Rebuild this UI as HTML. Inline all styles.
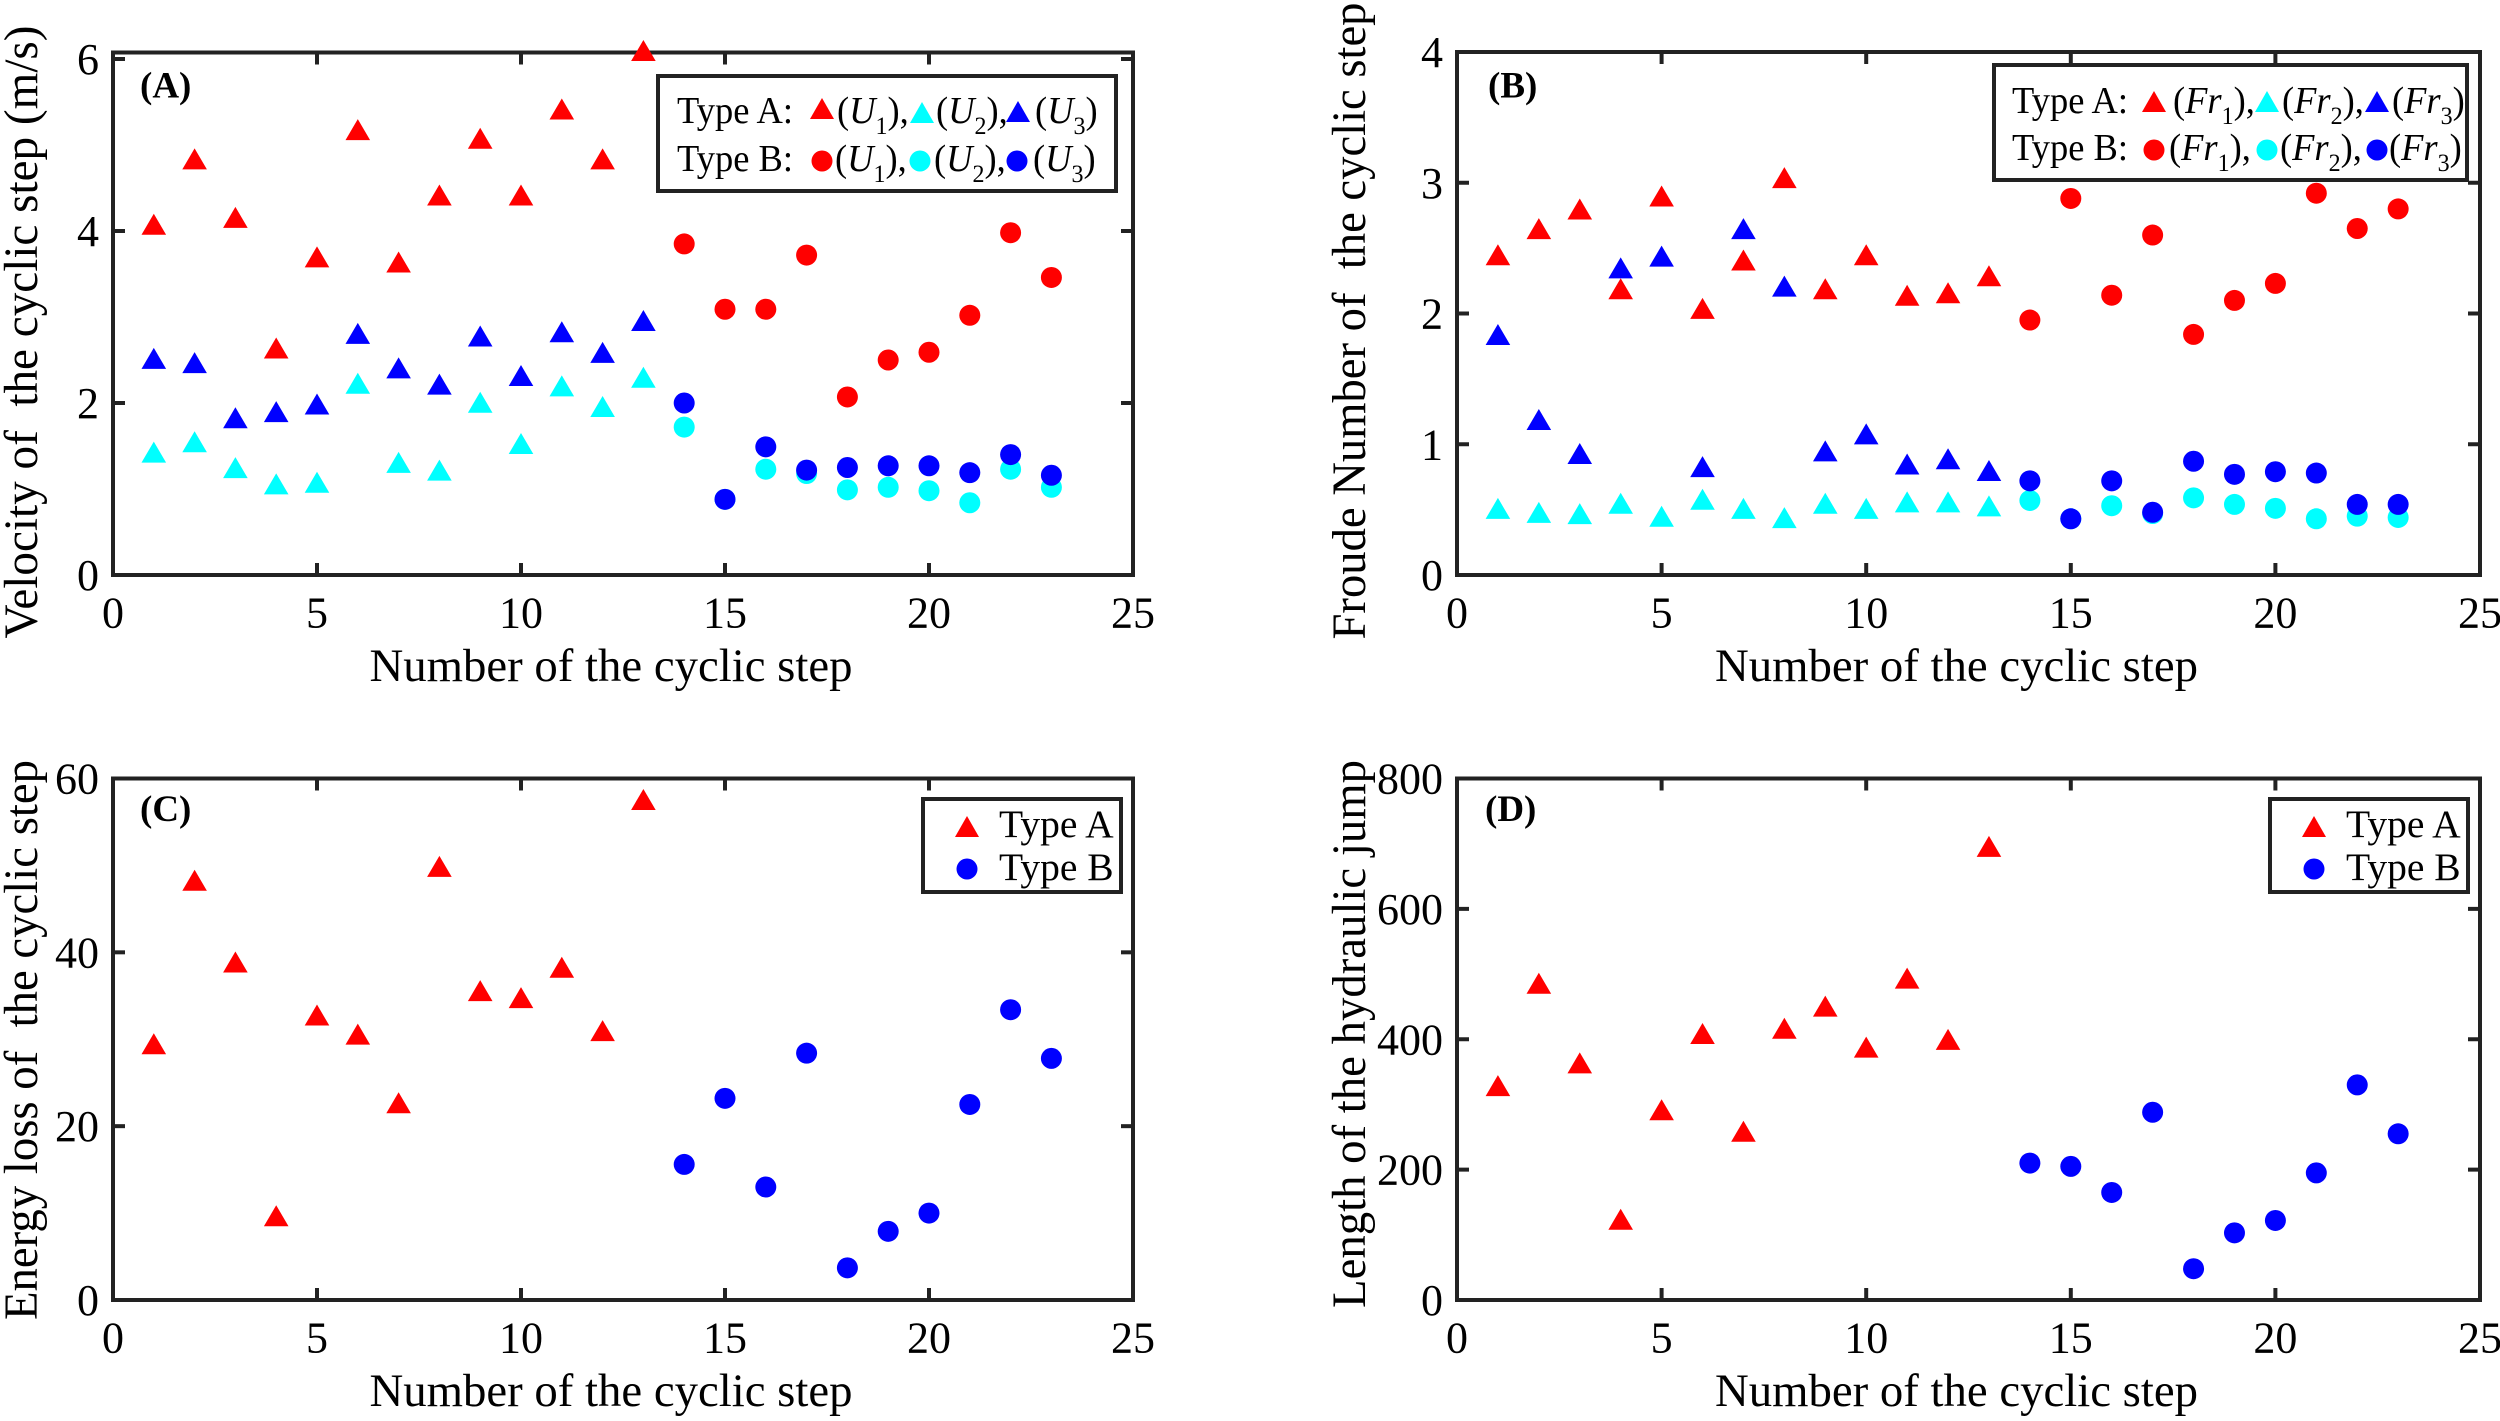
<!DOCTYPE html>
<html lang="en">
<head>
<meta charset="utf-8">
<title>Cyclic step hydraulics – four panel scatter chart</title>
<style>
html,body{margin:0;padding:0;background:#fff;}
svg{display:block;}
text{font-family:"Liberation Serif",serif;fill:#000;white-space:pre;}
.leg{font-size:38px;}
.leg2{font-size:39.5px;}
</style>
</head>
<body>
<svg id="figure" xmlns="http://www.w3.org/2000/svg" width="2500" height="1421" viewBox="0 0 2500 1421">
  <rect x="0" y="0" width="2500" height="1421" fill="#fff"/>
  <g id="panels"></g>

  <g>
    <rect x="658" y="76" width="458" height="115" fill="#fff" stroke="#222" stroke-width="4"/>
    <text class="leg" x="677" y="123">Type A:</text>
    <polygon points="810,119 834,119 822,98" fill="#f00"/>
    <text class="leg" x="837" y="123">(<tspan font-style="italic">U</tspan><tspan dy="11" font-size="25">1</tspan><tspan dy="-11">),</tspan></text>
    <polygon points="910,123 934,123 922,102" fill="#0ff"/>
    <text class="leg" x="936" y="123">(<tspan font-style="italic">U</tspan><tspan dy="11" font-size="25">2</tspan><tspan dy="-11">),</tspan></text>
    <polygon points="1006,122 1030,122 1018,101" fill="#00f"/>
    <text class="leg" x="1035" y="123">(<tspan font-style="italic">U</tspan><tspan dy="11" font-size="25">3</tspan><tspan dy="-11">)</tspan></text>
    <text class="leg" x="677" y="171">Type B:</text>
    <circle cx="822" cy="161" r="10.5" fill="#f00"/>
    <text class="leg" x="835" y="171">(<tspan font-style="italic">U</tspan><tspan dy="11" font-size="25">1</tspan><tspan dy="-11">),</tspan></text>
    <circle cx="920" cy="161" r="10.5" fill="#0ff"/>
    <text class="leg" x="934" y="171">(<tspan font-style="italic">U</tspan><tspan dy="11" font-size="25">2</tspan><tspan dy="-11">),</tspan></text>
    <circle cx="1017" cy="161" r="10.5" fill="#00f"/>
    <text class="leg" x="1033" y="171">(<tspan font-style="italic">U</tspan><tspan dy="11" font-size="25">3</tspan><tspan dy="-11">)</tspan></text>
  </g>

  <g>
    <rect x="1994" y="65" width="473" height="115" fill="#fff" stroke="#222" stroke-width="4"/>
    <text class="leg" x="2012" y="113">Type A:</text>
    <polygon points="2142,112 2166,112 2154,91" fill="#f00"/>
    <text class="leg" x="2173" y="113">(<tspan font-style="italic">Fr</tspan><tspan dy="11" font-size="25">1</tspan><tspan dy="-11">),</tspan></text>
    <polygon points="2255,112 2279,112 2267,91" fill="#0ff"/>
    <text class="leg" x="2282" y="113">(<tspan font-style="italic">Fr</tspan><tspan dy="11" font-size="25">2</tspan><tspan dy="-11">),</tspan></text>
    <polygon points="2365,112 2389,112 2377,91" fill="#00f"/>
    <text class="leg" x="2392" y="113">(<tspan font-style="italic">Fr</tspan><tspan dy="11" font-size="25">3</tspan><tspan dy="-11">)</tspan></text>
    <text class="leg" x="2012" y="160">Type B:</text>
    <circle cx="2154" cy="150" r="10.5" fill="#f00"/>
    <text class="leg" x="2169" y="160">(<tspan font-style="italic">Fr</tspan><tspan dy="11" font-size="25">1</tspan><tspan dy="-11">),</tspan></text>
    <circle cx="2267" cy="150" r="10.5" fill="#0ff"/>
    <text class="leg" x="2280" y="160">(<tspan font-style="italic">Fr</tspan><tspan dy="11" font-size="25">2</tspan><tspan dy="-11">),</tspan></text>
    <circle cx="2377" cy="150" r="10.5" fill="#00f"/>
    <text class="leg" x="2389" y="160">(<tspan font-style="italic">Fr</tspan><tspan dy="11" font-size="25">3</tspan><tspan dy="-11">)</tspan></text>
  </g>

  <g>
    <rect x="923" y="799" width="198" height="93" fill="#fff" stroke="#222" stroke-width="4"/>
    <polygon points="955,837 979,837 967,816" fill="#f00"/>
    <text class="leg2" x="999" y="837">Type A</text>
    <circle cx="967" cy="869" r="10.5" fill="#00f"/>
    <text class="leg2" x="999" y="880">Type B</text>
  </g>

  <g>
    <rect x="2270" y="799" width="198" height="93" fill="#fff" stroke="#222" stroke-width="4"/>
    <polygon points="2302,837 2326,837 2314,816" fill="#f00"/>
    <text class="leg2" x="2346" y="837">Type A</text>
    <circle cx="2314" cy="869" r="10.5" fill="#00f"/>
    <text class="leg2" x="2346" y="880">Type B</text>
  </g>
</svg>

<script>
// Shared x data (cyclic step number) and tick labels
var stepsA = [1,2,3,4,5,6,7,8,9,10,11,12,13];
var stepsB = [14,15,16,17,18,19,20,21,22,23];
var xTicks = [0,5,10,15,20,25];

// Panel A: velocity (m/s)
var velocityTicks = [0,2,4,6];
var u1TypeA = [4.05,4.81,4.13,2.61,3.67,5.15,3.61,4.39,5.05,4.39,5.39,4.81,6.07];
var u2TypeA = [1.40,1.52,1.22,1.03,1.05,2.20,1.28,1.19,1.98,1.50,2.17,1.93,2.27];
var u3TypeA = [2.49,2.44,1.80,1.87,1.96,2.78,2.38,2.19,2.75,2.29,2.80,2.56,2.93];
var u1TypeB = [3.85,3.09,3.09,3.72,2.07,2.50,2.59,3.02,3.98,3.46];
var u2TypeB = [1.72,0.88,1.23,1.18,0.99,1.02,0.98,0.84,1.23,1.02];
var u3TypeB = [2.00,0.88,1.49,1.22,1.25,1.27,1.27,1.19,1.40,1.16];

// Panel B: Froude number
var froudeTicks = [0,1,2,3,4];
var fr1TypeA = [2.43,2.63,2.78,2.17,2.88,2.02,2.39,3.02,2.17,2.43,2.12,2.14,2.27];
var fr2TypeA = [0.49,0.46,0.45,0.53,0.43,0.56,0.49,0.42,0.53,0.49,0.54,0.54,0.51];
var fr3TypeA = [1.82,1.17,0.91,2.33,2.42,0.81,2.63,2.19,0.93,1.06,0.83,0.87,0.78];
var fr1TypeB = [1.95,2.88,2.14,2.60,1.84,2.10,2.23,2.92,2.65,2.80];
var fr2TypeB = [0.57,0.43,0.53,0.47,0.59,0.54,0.51,0.43,0.45,0.44];
var fr3TypeB = [0.72,0.43,0.72,0.48,0.87,0.77,0.79,0.78,0.54,0.54];

// Panel C: energy loss
var energyTicks = [0,20,40,60];
var energyTypeA = [29.2,48.0,38.6,9.4,32.5,30.3,22.4,49.6,35.3,34.5,38.0,30.7,57.3];
var energyTypeB = [15.6,23.2,13.0,28.4,3.7,7.9,10.0,22.5,33.4,27.8];

// Panel D: hydraulic jump length
var lengthTicks = [0,200,400,600,800];
var lengthTypeA = [325,482,360,120,288,405,255,413,447,384,490,396,692];
var lengthTypeB = [210,205,165,288,48,103,122,195,330,255];

var SVGNS = 'http://www.w3.org/2000/svg';
var AXIS_COLOR = '#222';
var root = document.getElementById('panels');

function make(tag, attrs, parent) {
  var el = document.createElementNS(SVGNS, tag);
  for (var k in attrs) { el.setAttribute(k, attrs[k]); }
  parent.appendChild(el);
  return el;
}

function drawPanel(p) {
  var g = make('g', {}, root);
  
  

  function sx(v) { return p.left + (v - 0) / 25 * (p.right - p.left); }
  function sy(v) { return p.bottom - v / p.yUnit; }

  // frame
  var frame = make('rect', {x: p.left, y: p.top, width: p.right - p.left, height: p.bottom - p.top, fill: 'none', stroke: AXIS_COLOR, 'stroke-width': 4}, g);
  
  

  // x ticks and labels
  xTicks.forEach(function (t) {
    var x = sx(t);
    if (t > 0 && t < 25) {
      var tb = make('line', {x1: x, x2: x, y1: p.bottom, y2: p.bottom - 12, stroke: AXIS_COLOR, 'stroke-width': 4}, g);
      
      
      var tt = make('line', {x1: x, x2: x, y1: p.top, y2: p.top + 12, stroke: AXIS_COLOR, 'stroke-width': 4}, g);
      
      
    }
    var lab = make('text', {x: x, y: p.bottom + 52.5, 'text-anchor': 'middle', 'font-size': 44}, g);
    
    
    lab.textContent = String(t);
  });

  // y ticks and labels
  p.yTicks.forEach(function (t) {
    var y = sy(t);
    if (t > 0 && y > p.top + 1) {
      var tl = make('line', {x1: p.left, x2: p.left + 12, y1: y, y2: y, stroke: AXIS_COLOR, 'stroke-width': 4}, g);
      
      
      var tr = make('line', {x1: p.right, x2: p.right - 12, y1: y, y2: y, stroke: AXIS_COLOR, 'stroke-width': 4}, g);
      
      
    }
    var lab = make('text', {x: p.left - 14, y: y + 15, 'text-anchor': 'end', 'font-size': 44}, g);
    
    
    lab.textContent = String(t);
  });

  // axis titles
  var xt = make('text', {x: (p.left + p.right) / 2 - 12, y: p.bottom + 106, 'text-anchor': 'middle', 'font-size': 46.5, textLength: 483, lengthAdjust: 'spacingAndGlyphs'}, g);
  
  
  xt.textContent = 'Number of the cyclic step';

  var yt = make('text', {transform: 'translate(' + p.yTitleX + ',' + p.yTitleY + ') rotate(-90)', 'text-anchor': 'middle', 'font-size': 48, textLength: p.yTitleLen, lengthAdjust: 'spacingAndGlyphs'}, g);
  
  
  yt.textContent = p.yTitle;

  // panel letter
  var tag = make('text', {x: p.tagX, y: p.tagY, 'font-size': 37, 'font-weight': 'bold'}, g);
  
  
  tag.textContent = p.tag;

  // series
  p.series.forEach(function (s) {
    var sg = make('g', {fill: s.color}, g);
    
    
    s.xs.forEach(function (xv, i) {
      var cx = sx(xv), cy = sy(s.ys[i]), m;
      if (s.shape === 'tri') {
        m = make('polygon', {points: (cx - 12.3) + ',' + (cy + 8) + ' ' + (cx + 12.3) + ',' + (cy + 8) + ' ' + cx + ',' + (cy - 13)}, sg);
      } else {
        m = make('circle', {cx: cx, cy: cy, r: 10.5}, sg);
      }
      
      
    });
  });
}

drawPanel({
  id: 'a', tag: '(A)', tagX: 140, tagY: 97.5,
  left: 113, right: 1133, top: 52.5, bottom: 575, yUnit: 1 / 86,
  yTicks: velocityTicks,
  yTitle: 'Velocity of  the cyclic step (m/s)', yTitleX: 37, yTitleY: 332, yTitleLen: 613,
  series: [
    {name: 'u2-type-a', shape: 'tri', color: '#0ff', xs: stepsA, ys: u2TypeA},
    {name: 'u3-type-a', shape: 'tri', color: '#00f', xs: stepsA, ys: u3TypeA},
    {name: 'u1-type-a', shape: 'tri', color: '#f00', xs: stepsA, ys: u1TypeA},
    {name: 'u2-type-b', shape: 'cir', color: '#0ff', xs: stepsB, ys: u2TypeB},
    {name: 'u3-type-b', shape: 'cir', color: '#00f', xs: stepsB, ys: u3TypeB},
    {name: 'u1-type-b', shape: 'cir', color: '#f00', xs: stepsB, ys: u1TypeB}
  ]
});

drawPanel({
  id: 'b', tag: '(B)', tagX: 1488, tagY: 97.5,
  left: 1457, right: 2480, top: 52, bottom: 575, yUnit: 4 / 523,
  yTicks: froudeTicks,
  yTitle: 'Froude Number of  the cyclic step', yTitleX: 1365, yTitleY: 321, yTitleLen: 637,
  series: [
    {name: 'fr2-type-a', shape: 'tri', color: '#0ff', xs: stepsA, ys: fr2TypeA},
    {name: 'fr3-type-a', shape: 'tri', color: '#00f', xs: stepsA, ys: fr3TypeA},
    {name: 'fr1-type-a', shape: 'tri', color: '#f00', xs: stepsA, ys: fr1TypeA},
    {name: 'fr2-type-b', shape: 'cir', color: '#0ff', xs: stepsB, ys: fr2TypeB},
    {name: 'fr3-type-b', shape: 'cir', color: '#00f', xs: stepsB, ys: fr3TypeB},
    {name: 'fr1-type-b', shape: 'cir', color: '#f00', xs: stepsB, ys: fr1TypeB}
  ]
});

drawPanel({
  id: 'c', tag: '(C)', tagX: 140, tagY: 821,
  left: 113, right: 1133, top: 778.5, bottom: 1300, yUnit: 60 / 521.5,
  yTicks: energyTicks,
  yTitle: 'Energy loss of  the cyclic step', yTitleX: 37, yTitleY: 1040, yTitleLen: 560,
  series: [
    {name: 'energy-type-a', shape: 'tri', color: '#f00', xs: stepsA, ys: energyTypeA},
    {name: 'energy-type-b', shape: 'cir', color: '#00f', xs: stepsB, ys: energyTypeB}
  ]
});

drawPanel({
  id: 'd', tag: '(D)', tagX: 1485, tagY: 821,
  left: 1457, right: 2480, top: 778.5, bottom: 1300, yUnit: 800 / 521.5,
  yTicks: lengthTicks,
  yTitle: 'Length of the hydraulic jump', yTitleX: 1365, yTitleY: 1034, yTitleLen: 548,
  series: [
    {name: 'length-type-a', shape: 'tri', color: '#f00', xs: stepsA, ys: lengthTypeA},
    {name: 'length-type-b', shape: 'cir', color: '#00f', xs: stepsB, ys: lengthTypeB}
  ]
});

// Legend text is slightly condensed horizontally, as in the reference
var legendTexts = document.querySelectorAll('text.leg');
for (var i = 0; i < legendTexts.length; i++) {
  var t = legendTexts[i];
  var tx = t.getAttribute('x');
  var ty = t.getAttribute('y');
  t.removeAttribute('x');
  t.removeAttribute('y');
  t.setAttribute('transform', 'translate(' + tx + ',' + ty + ') scale(0.96,1)');
}
</script>
</body>
</html>
